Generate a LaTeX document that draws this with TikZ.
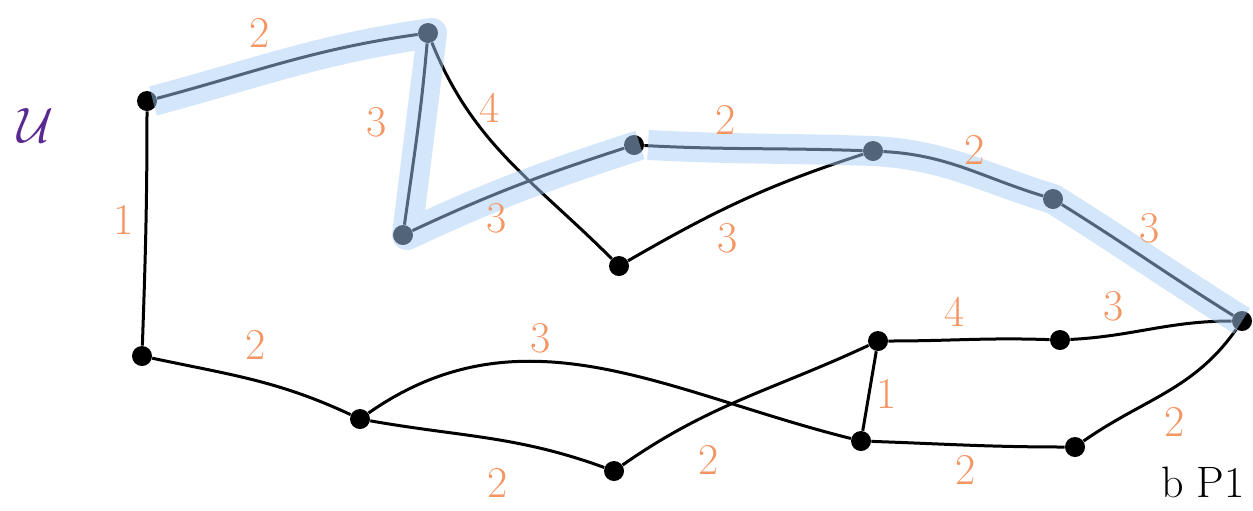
\documentclass[tikz,border=0pt]{standalone}
\usepackage{tikz}
\definecolor{lbl}{RGB}{244,150,100}
\definecolor{hlc}{RGB}{167,204,245}
\definecolor{upur}{RGB}{90,40,145}
\tikzset{
  vtx/.style={circle,fill=black,inner sep=0pt,minimum size=10pt},
  edge/.style={line width=1.5pt,black},
  hl/.style={line width=15pt,hlc,opacity=0.49,line cap=butt,line join=round},
  wt/.style={text=lbl,font=\fontsize{22}{24}\selectfont}
}
\begin{document}
\begin{tikzpicture}[x=0.5pt,y=0.5pt]
\useasboundingbox (0,0) rectangle (1253,-510);
% vertices
\node[vtx] (A) at (147,-101) {};
\node[vtx] (B) at (428,-33) {};
\node[vtx] (C) at (403,-235) {};
\node[vtx] (D) at (634,-145) {};
\node[vtx] (E) at (619,-266) {};
\node[vtx] (F) at (873,-151) {};
\node[vtx] (G) at (1053,-199) {};
\node[vtx] (H) at (1242,-321) {};
\node[vtx] (I) at (142,-356) {};
\node[vtx] (J) at (360,-419) {};
\node[vtx] (K) at (614,-471) {};
\node[vtx] (L) at (878,-341) {};
\node[vtx] (M) at (861,-441) {};
\node[vtx] (N) at (1060,-340) {};
\node[vtx] (O) at (1075,-447) {};
% edges
\draw[edge] (A) to[out=15,in=188] (B);
\draw[edge] (B) to[out=-95,in=82] (C);
\draw[edge] (B) to[out=-68,in=135] (E);
\draw[edge] (C) to[out=25,in=198] (D);
\draw[edge] (D) to[out=-3,in=178] (F);
\draw[edge] (E) to[out=30,in=198] (F);
\draw[edge] (F) to[out=-3,in=163] (G);
\draw[edge] (G) to[out=-32,in=148] (H);
\draw[edge] (A) to[out=-90,in=88] (I);
\draw[edge] (I) to[out=-12,in=155] (J);
\draw[edge] (J) to[out=35,in=166] (M);
\draw[edge] (J) to[out=-10,in=160] (K);
\draw[edge] (K) to[out=35,in=205] (L);
\draw[edge] (L) -- (M);
\draw[edge] (L) to[out=0,in=178] (N);
\draw[edge] (N) to[out=3,in=180] (H);
\draw[edge] (M) to[out=-2,in=180] (O);
\draw[edge] (O) to[out=35,in=235] (H);
% highlight
\draw[hl] ([xshift=3pt]A.center) to[out=15,in=188] ([xshift=2pt]B.center) -- ([xshift=2pt]C.center) to[out=25,in=198] ([xshift=3pt]D.center);
\draw[hl] ([xshift=7pt]D.center) to[out=-3,in=178] (F.center) to[out=-3,in=163] (G.center) to[out=-32,in=148] (H.center);
% weights
\node[wt] (wAB) at (260,-33) {2};
\node[wt] (wBC) at (377,-122) {3};
\node[wt] (wBE) at (490,-108) {4};
\node[wt] (wCD) at (497,-218) {3};
\node[wt] (wDF) at (726,-120) {2};
\node[wt] (wEF) at (728,-238) {3};
\node[wt] (wFG) at (975,-150) {2};
\node[wt] (wGH) at (1150,-228) {3};
\node[wt] (wAI) at (124,-220) {1};
\node[wt] (wIJ) at (256,-345) {2};
\node[wt] (wJM) at (541,-338) {3};
\node[wt] (wJK) at (498,-483) {2};
\node[wt] (wKL) at (709,-460) {2};
\node[wt] (wLM) at (887,-394) {1};
\node[wt] (wLN) at (955,-312) {4};
\node[wt] (wNH) at (1114,-306) {3};
\node[wt] (wMO) at (966,-470) {2};
\node[wt] (wOH) at (1175,-422) {2};
% other text
\node[text=upur,font=\fontsize{40}{44}\selectfont] (U) at (36,-125) {$\mathcal{U}$};
\node[anchor=south,font=\fontsize{22}{24}\selectfont,inner sep=1pt] (bP) at (1203,-500) {b P1};
\end{tikzpicture}
\end{document}
